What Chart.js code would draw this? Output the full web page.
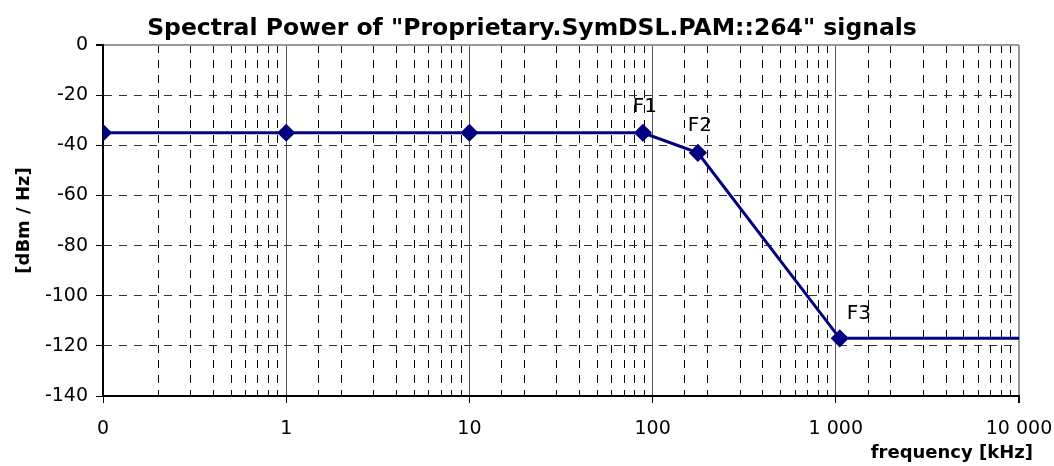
<!DOCTYPE html>
<html>
<head>
<meta charset="utf-8">
<title>Spectral Power</title>
<script src="https://cdn.jsdelivr.net/npm/chart.js@4.4.1/dist/chart.umd.min.js"></script>
<style>
  html, body { margin: 0; padding: 0; background: #fff; }
  #wrap { width: 1054px; height: 466px; }
</style>
</head>
<body>
<div id="wrap"><canvas id="spectrumChart"></canvas></div>
<script>
// breakpoints of the PSD mask (frequency in kHz, power in dBm/Hz)
const freqKHz = [0.1, 1, 10, 88.5, 176.7, 1051, 10000];
const powerDbm = [-35, -35, -35, -35, -43, -117, -117];
const pointNames = ['', '', '', 'F1', 'F2', 'F3', ''];

// decade ticks on the log axis and how Excel printed them
const xTickValues = [0.1, 1, 10, 100, 1000, 10000];
const xTickLabels = ['0', '1', '10', '100', '1 000', '10 000'];

const chartTitle = 'Spectral Power of "Proprietary.SymDSL.PAM::264" signals';
const NAVY = '#000080';

function isDecade(v) {
  const l = Math.log10(v);
  return Math.abs(l - Math.round(l)) < 1e-6;
}

// title (Excel centred it a bit left of the plot), F1/F2/F3 labels, x axis title
const annotatePlugin = {
  id: 'annotate',
  afterDatasetsDraw(chart, args, opts) {
    const ctx = chart.ctx;
    const area = chart.chartArea;
    const meta = chart.getDatasetMeta(0);
    ctx.save();
    ctx.fillStyle = '#000';

    ctx.font = 'bold 23.5px "DejaVu Sans"';
    ctx.textAlign = 'center';
    ctx.textBaseline = 'alphabetic';
    ctx.fillText(chartTitle, (area.left + area.right) / 2 - 29, area.top - 10);

    ctx.font = '20px "DejaVu Sans"';
    ctx.textBaseline = 'middle';
    meta.data.forEach((pt, i) => {
      const name = pointNames[i];
      if (!name) return;
      const off = opts.offsets[name] || [0, -26];
      ctx.fillText(name, pt.x + off[0], pt.y + off[1]);
    });

    const xs = chart.scales.x;
    ctx.font = 'bold 18px "DejaVu Sans"';
    ctx.textAlign = 'right';
    ctx.fillText('frequency [kHz]', xs.right + 14, xs.bottom - 13);
    ctx.restore();
  }
};

Chart.defaults.font.family = '"DejaVu Sans", sans-serif';
Chart.defaults.color = '#000';

const ctx = document.getElementById('spectrumChart').getContext('2d');

new Chart(ctx, {
  type: 'line',
  data: {
    datasets: [{
      label: 'PSD',
      data: freqKHz.map((f, i) => ({ x: f, y: powerDbm[i] })),
      borderColor: NAVY,
      backgroundColor: NAVY,
      borderWidth: 3,
      tension: 0,
      pointStyle: 'rectRot',
      pointRadius: c => (c.dataIndex === freqKHz.length - 1 ? 0 : 7),
      pointHoverRadius: 7,
      pointBackgroundColor: NAVY,
      pointBorderColor: NAVY
    }]
  },
  options: {
    responsive: true,
    maintainAspectRatio: false,
    animation: false,
    layout: { padding: { left: 0, right: 35, top: 45, bottom: 0 } },
    scales: {
      x: {
        type: 'logarithmic',
        min: 0.1,
        max: 10000,
        afterFit: s => { s.height = 70; s.paddingLeft = 0; s.paddingRight = 0; },
        ticks: {
          autoSkip: false,
          maxRotation: 0,
          padding: 15,
          font: { size: 19 },
          callback: v => {
            const i = xTickValues.findIndex(t => Math.abs(t - v) < 1e-9);
            return i >= 0 ? xTickLabels[i] : '';
          }
        },
        grid: {
          color: c => {
            if (!c.tick) return '#000';
            if (c.tick.value >= 10000) return '#999';
            return isDecade(c.tick.value) ? '#555' : '#000';
          },
          lineWidth: c => (c.tick && c.tick.value >= 10000 ? 2 : 1),
          tickColor: c => (c.tick && isDecade(c.tick.value) ? '#000' : 'rgba(0,0,0,0)'),
          tickLength: 7
        },
        border: {
          color: '#000',
          width: 2,
          dash: c => (c.tick && !isDecade(c.tick.value) ? [8, 7] : [])
        },
        title: { display: false }
      },
      y: {
        min: -140,
        max: 0,
        afterFit: s => { s.width = 103; s.paddingTop = 0; s.paddingBottom = 0; },
        ticks: {
          stepSize: 20,
          padding: 8,
          font: { size: 19 }
        },
        grid: {
          color: c => (c.tick && c.tick.value === 0 ? '#999' : '#333'),
          lineWidth: c => (c.tick && c.tick.value === 0 ? 2 : 1),
          tickColor: '#000',
          tickLength: 7
        },
        border: {
          color: '#000',
          width: 2,
          dash: c => (c.tick && c.tick.value !== 0 ? [8, 7] : [])
        },
        title: {
          display: true,
          text: '[dBm / Hz]',
          font: { size: 18, weight: 'bold' },
          padding: { top: 14, bottom: 4 }
        }
      }
    },
    plugins: {
      legend: { display: false },
      tooltip: { enabled: false },
      title: { display: false },
      annotate: {
        offsets: { F1: [2, -26], F2: [2, -27], F3: [19, -25] }
      }
    }
  },
  plugins: [annotatePlugin]
});
</script>
</body>
</html>
